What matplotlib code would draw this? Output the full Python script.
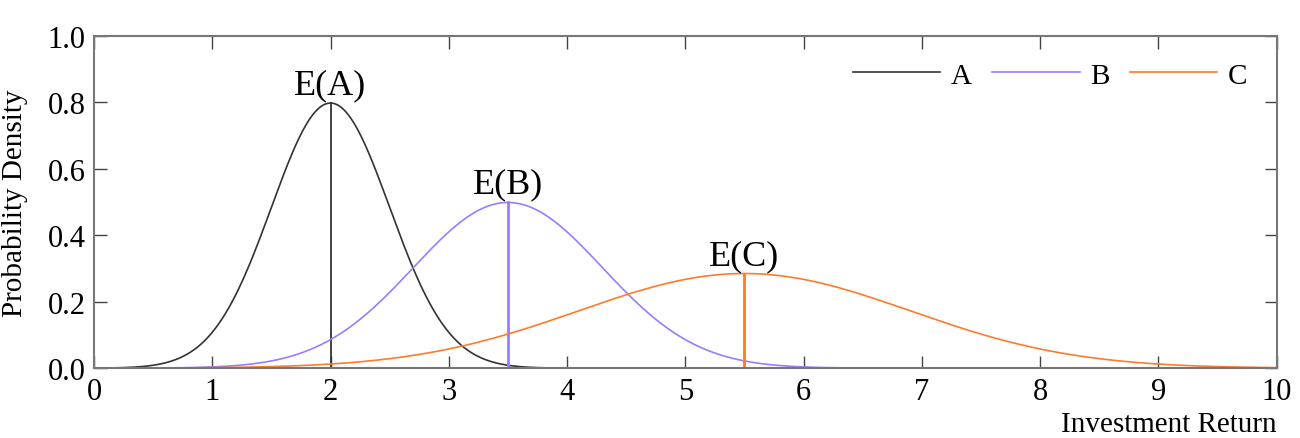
import numpy as np
import matplotlib.pyplot as plt

plt.rcParams['font.family'] = ['Liberation Serif', 'DejaVu Serif']

names = ['A', 'B', 'C']
means = [2.0, 3.5, 5.5]
sigmas = [0.5, 0.8, 1.4]
colors = ['#333333', '#9b7bff', '#ff7a2a']
x_ticks = list(range(0, 11))
y_ticks = [0.0, 0.2, 0.4, 0.6, 0.8, 1.0]

x = np.linspace(0, 10, 1001)

fig = plt.figure(figsize=(13, 4.39), dpi=100)
ax = fig.add_axes([0.0723, 0.159, 0.9097, 0.757])

for name, mu, sd, c in zip(names, means, sigmas, colors):
    y = np.exp(-0.5 * ((x - mu) / sd) ** 2) / (sd * np.sqrt(2 * np.pi))
    ax.plot(x, y, color=c, lw=1.2, label=name)
    peak = 1 / (sd * np.sqrt(2 * np.pi))
    ax.plot([mu, mu], [0, peak], color=c, lw=1.3 if name == 'A' else 2.0)
    ax.text(mu, peak + 0.005, 'E(%s)' % name, ha='center', va='bottom', fontsize=26)

ax.set_xlim(0, 10)
ax.set_ylim(0, 1.0)
ax.set_xticks(x_ticks)
ax.set_yticks(y_ticks)
ax.set_yticklabels(['%.1f' % v for v in y_ticks])
ax.tick_params(direction='in', length=9, width=1, colors='#444444', labelcolor='black',
               top=True, right=True, labelsize=22, pad=6)
for s in ax.spines.values():
    s.set_color('#777777')
    s.set_linewidth(1.5)

ax.set_ylabel('Probability Density', fontsize=21)
ax.yaxis.set_label_coords(-0.056, 0.5)
ax.set_xlabel('Investment Return', fontsize=21)
ax.xaxis.set_label_coords(1.0, -0.13)
ax.xaxis.label.set_horizontalalignment('right')

ax.legend(loc='upper right', ncol=3, frameon=False, fontsize=21, handlelength=3.0,
          columnspacing=0.7, handletextpad=0.35, bbox_to_anchor=(0.997, 1.0))

fig.savefig('out.png', dpi=100)
